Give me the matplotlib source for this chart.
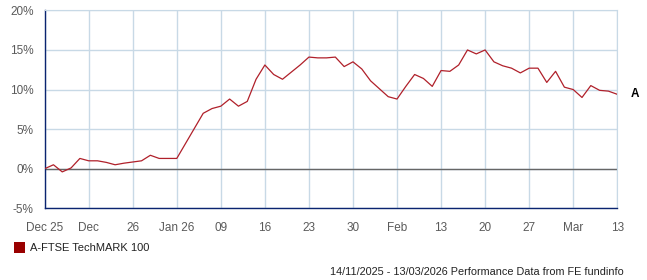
import matplotlib
matplotlib.use("Agg")
import matplotlib.pyplot as plt
from matplotlib.patches import Rectangle

plt.rcParams['font.family'] = ['Liberation Sans', 'DejaVu Sans']

# cumulative performance (%) per trading day
performance = [
    0.0, 0.5, -0.4, 0.1, 1.3, 1.0, 1.0, 0.8, 0.5, 0.7,
    0.85, 1.0, 1.7, 1.3, 1.3, 1.3, 3.2, 5.1, 7.0, 7.6,
    7.9, 8.8, 7.9, 8.5, 11.3, 13.1, 11.9, 11.3, 12.2, 13.1,
    14.1, 14.0, 14.0, 14.1, 12.9, 13.5, 12.6, 11.1, 10.1, 9.1,
    8.8, 10.4, 11.9, 11.4, 10.4, 12.4, 12.3, 13.1, 15.0, 14.5,
    15.0, 13.5, 13.0, 12.7, 12.1, 12.7, 12.7, 10.9, 12.3, 10.3,
    10.0, 9.0, 10.5, 9.9, 9.8, 9.4,
]
x_labels = ["Dec 25", "Dec", "26", "Jan 26", "09", "16", "23", "30",
            "Feb", "13", "20", "27", "Mar", "13"]
y_ticks = [-5, 0, 5, 10, 15, 20]
series_name = "A-FTSE TechMARK 100"
series_tag = "A"
footer = "14/11/2025 - 13/03/2026 Performance Data from FE fundinfo"

line_color = "#b0202a"
grid_color = "#c8d9e6"
axis_color = "#0a2470"
text_color = "#5a5a5a"

fig = plt.figure(figsize=(6.47, 2.80), dpi=100)
ax = fig.add_axes([0.069, 0.256, 0.885, 0.707])

days = list(range(len(performance)))
ax.plot(days, performance, color=line_color, linewidth=0.9, zorder=3)
ax.axhline(0, color="#666666", linewidth=1.0, zorder=2)

ax.set_xlim(0, len(performance) - 1)
ax.set_ylim(-5, 20)
ax.set_xticks(range(0, len(performance), 5))
ax.set_xticklabels(x_labels)
ax.set_yticks(y_ticks)
ax.set_yticklabels([f"{v}%" for v in y_ticks])

ax.grid(True, color=grid_color, linewidth=1.0, zorder=1)
ax.tick_params(length=0, labelsize=8.5, colors=text_color)
ax.tick_params(axis='y', pad=8)
ax.tick_params(axis='x', pad=10)

for side in ["top", "right"]:
    ax.spines[side].set_color(grid_color)
for side in ["left", "bottom"]:
    ax.spines[side].set_color(axis_color)
    ax.spines[side].set_linewidth(1.0)

ax.annotate(series_tag, xy=(days[-1], performance[-1]), xytext=(10, 0),
            textcoords="offset points", va="center", ha="left",
            fontsize=8.5, fontweight="bold", color="black")

# legend
fig.patches.append(Rectangle((14 / 647, 1 - 253 / 280), 11 / 647, 11 / 280,
                             transform=fig.transFigure, facecolor="#990000",
                             edgecolor="none"))
fig.text(30 / 647, 1 - 248 / 280, series_name, fontsize=8, color="#222222",
         va="center", ha="left")
fig.text(624 / 647, 1 - 272 / 280, footer, fontsize=7.8, color="#222222",
         va="center", ha="right")

fig.savefig("out.png", dpi=100)
